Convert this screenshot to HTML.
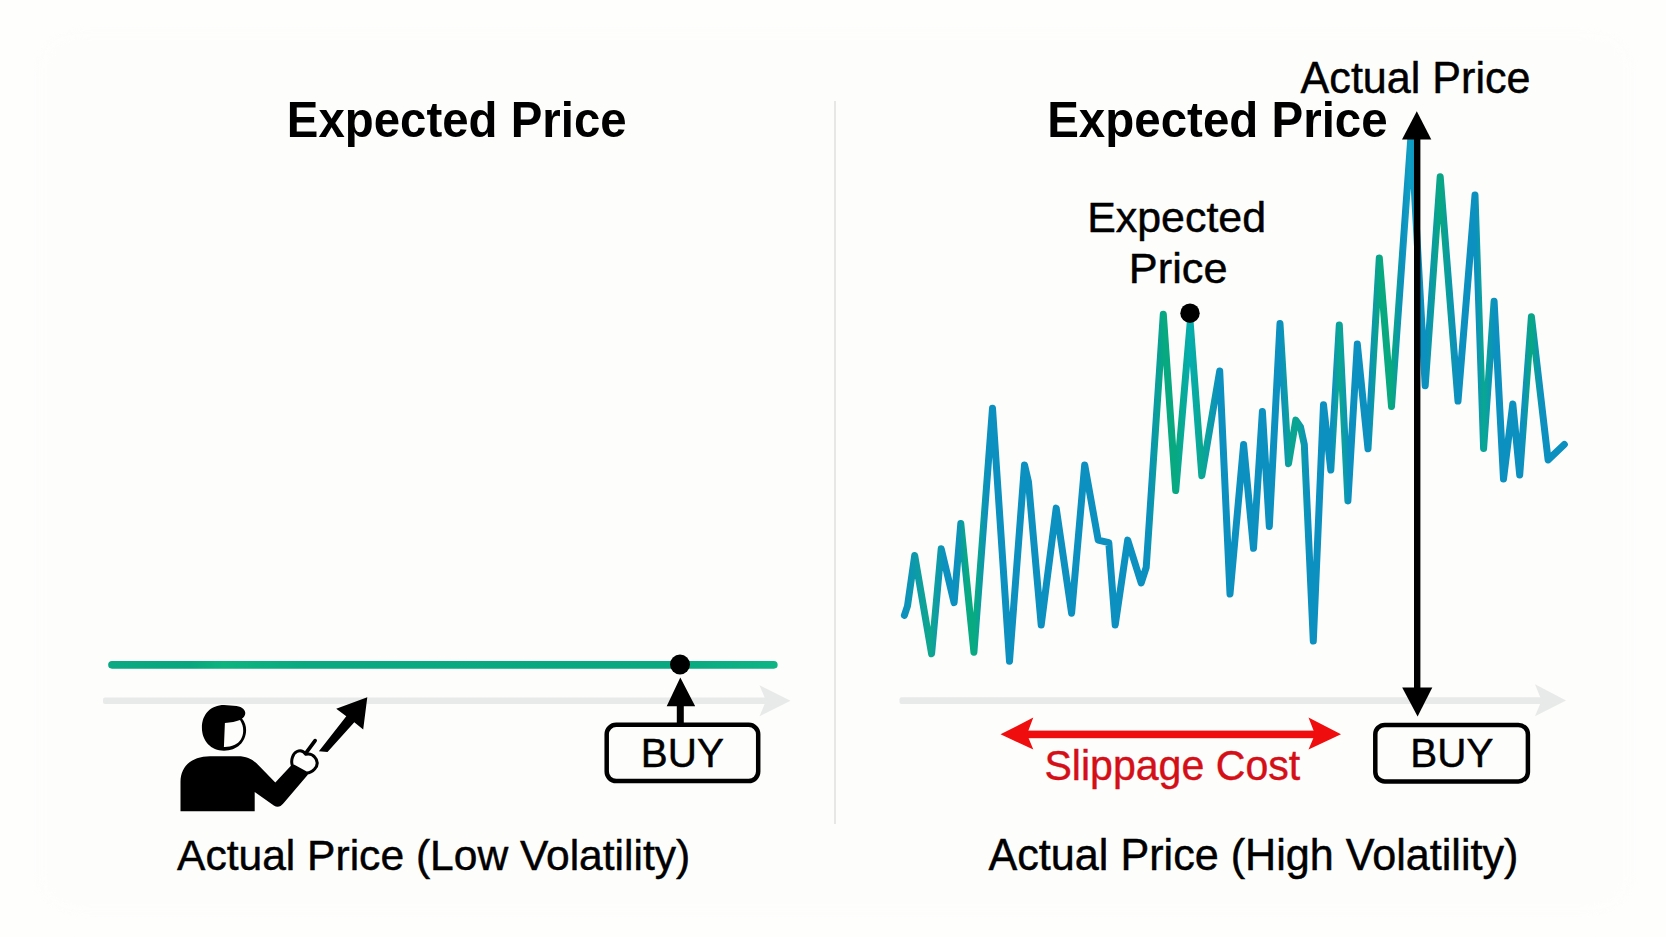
<!DOCTYPE html>
<html lang="en">
<head>
<meta charset="utf-8">
<title>Slippage: Expected Price vs Actual Price</title>
<style>
  html, body { margin: 0; padding: 0; background: #fefefd; }
  body { width: 1666px; height: 937px; overflow: hidden; position: relative; }
  svg { position: absolute; left: 0; top: 0; display: block; }
  text { font-family: "Liberation Sans", sans-serif; fill: #000; }
  .b { font-weight: 700; }
  .r { stroke: #000; stroke-width: 0.45; }
</style>
</head>
<body>
<svg width="1666" height="937" viewBox="0 0 1666 937">
  <defs>
    <filter id="soft" x="-5%" y="-5%" width="110%" height="110%"><feGaussianBlur stdDeviation="14"/></filter>
    <linearGradient id="gl" gradientUnits="userSpaceOnUse" x1="110" y1="0" x2="777" y2="0">
      <stop offset="0" stop-color="#0aa983"/>
      <stop offset="0.12" stop-color="#08a67e"/>
      <stop offset="0.17" stop-color="#0cb47e"/>
      <stop offset="0.3" stop-color="#0aa981"/>
      <stop offset="0.85" stop-color="#0aa880"/>
      <stop offset="1" stop-color="#0db585"/>
    </linearGradient>
    <linearGradient id="vg" gradientUnits="userSpaceOnUse" x1="900" y1="0" x2="1570" y2="0">
      <stop offset="0.006" stop-color="#0c90bf"/>
      <stop offset="0.045" stop-color="#0ea78c"/>
      <stop offset="0.066" stop-color="#0c90bf"/>
      <stop offset="0.085" stop-color="#0c90bf"/>
      <stop offset="0.100" stop-color="#08aa82"/>
      <stop offset="0.112" stop-color="#08aa82"/>
      <stop offset="0.130" stop-color="#0c90bf"/>
      <stop offset="0.370" stop-color="#0c90bf"/>
      <stop offset="0.393" stop-color="#08a880"/>
      <stop offset="0.412" stop-color="#08a880"/>
      <stop offset="0.433" stop-color="#05adb0"/>
      <stop offset="0.450" stop-color="#0aa890"/>
      <stop offset="0.475" stop-color="#0c90bf"/>
      <stop offset="0.568" stop-color="#0c90bf"/>
      <stop offset="0.584" stop-color="#0aa592"/>
      <stop offset="0.594" stop-color="#0aa592"/>
      <stop offset="0.608" stop-color="#0c90bf"/>
      <stop offset="0.645" stop-color="#0c90bf"/>
      <stop offset="0.656" stop-color="#0aa890"/>
      <stop offset="0.670" stop-color="#0c90bf"/>
      <stop offset="0.700" stop-color="#0c90bf"/>
      <stop offset="0.716" stop-color="#08a880"/>
      <stop offset="0.734" stop-color="#08a880"/>
      <stop offset="0.750" stop-color="#0c90bf"/>
      <stop offset="0.760" stop-color="#10a0c4"/>
      <stop offset="0.772" stop-color="#0c90bf"/>
      <stop offset="0.785" stop-color="#0c90bf"/>
      <stop offset="0.806" stop-color="#08a880"/>
      <stop offset="0.830" stop-color="#0c90bf"/>
      <stop offset="0.860" stop-color="#0c90bf"/>
      <stop offset="0.871" stop-color="#0aa890"/>
      <stop offset="0.887" stop-color="#0c90bf"/>
      <stop offset="0.930" stop-color="#0c90bf"/>
      <stop offset="0.942" stop-color="#08a880"/>
      <stop offset="0.957" stop-color="#0c90bf"/>
      <stop offset="1" stop-color="#0c90bf"/>
    </linearGradient>
  </defs>

  <!-- background -->
  <rect x="0" y="0" width="1666" height="937" fill="#fefefd"/>
  <rect x="45" y="38" width="1580" height="868" rx="20" fill="#fdfdfb" filter="url(#soft)"/>

  <!-- centre divider -->
  <rect x="834" y="101" width="2" height="723" fill="#e7e7e6"/>

  <!-- ================= LEFT PANEL ================= -->
  <text class="b" transform="translate(286.8,136.6) scale(1,1.045)" font-size="47.4">Expected Price</text>

  <!-- grey time axis -->
  <g fill="#e8e9e9" stroke="none">
    <rect x="103" y="697.5" width="665" height="6.5" rx="2"/>
    <path d="M790.5 700.8 L759.5 685.3 L766 700.8 L759.5 716.2 Z"/>
  </g>

  <!-- flat green price line -->
  <line x1="112" y1="664.8" x2="773.8" y2="664.8" stroke="url(#gl)" stroke-width="7.7" stroke-linecap="round"/>
  <circle cx="680" cy="664.5" r="10" fill="#000"/>

  <!-- arrow from BUY up to the line -->
  <path d="M680.3 677.5 L695.2 706.2 L683.8 706.2 L683.8 724 L676.8 724 L676.8 706.2 L666.7 706.2 Z" fill="#000"/>

  <!-- BUY box (left) -->
  <rect x="606.7" y="724.8" width="151.5" height="56.3" rx="9.5" ry="9.5" fill="#fdfdfc" stroke="#000" stroke-width="4.5"/>
  <text class="r" transform="translate(682.3,767) scale(1,1.015)" font-size="40.4" text-anchor="middle">BUY</text>

  <!-- person pointing -->
  <g id="person">
    <!-- body + arm -->
    <path fill="#000" d="M180.5 811.3 L180.5 782 C180.5 766 192 756.2 210 756.2 L238 756.2 C247 756.2 253 759.5 258 764.8 L275.3 782.6 L293 763.5 L308 774.5 L283.5 803.3 C280.2 807.2 277.3 807.6 273.8 805.6 L254.7 792 L254.7 811.3 Z"/>
    <!-- head + hair tuft -->
    <path fill="#000" d="M201.9 727.5 C201.9 714 211 704.9 224 704.9 L236.5 705.9 C242.5 706.8 246 710.3 245.2 714 C244.7 716 243.6 717.5 242 718.6 C245 722.5 246.1 726 246.1 730 C246.1 742 237 750.7 224 750.7 C211 750.7 201.9 741 201.9 727.5 Z"/>
    <!-- face -->
    <path fill="#fdfdfc" d="M224.9 722.9 C231 722.6 236 721.6 240 720 C242.3 723.5 243.3 727 243.2 731 C243 738 239.5 742.5 234.8 744.8 C231 746.5 227.5 747 223.9 746.9 Z"/>
    <!-- hand -->
    <path fill="#fdfdfc" stroke="#000" stroke-width="3" stroke-linejoin="round" d="M292.3 765.3 C290.6 760 292.8 753.5 297 751.5 C300.5 749.8 303.6 751.3 305.8 754.3 C309 753.5 312.6 754.6 314.6 757 C317.9 760.6 318 765 314.6 769 C312 771.9 309 773.1 306 772.9 Z"/>
    <!-- finger / pointer -->
    <line x1="306.6" y1="752.2" x2="315.1" y2="740.6" stroke="#000" stroke-width="3.7" stroke-linecap="round"/>
    <!-- diagonal arrow -->
    <path fill="#000" d="M367.3 697.3 L363.2 729.6 L354.3 722.3 L327.5 752 L318.9 751.2 L346.3 716.3 L336.2 708.8 Z"/>
  </g>

  <text class="r" transform="translate(177,870.4) scale(1,1.02)" font-size="42.57">Actual Price (Low Volatility)</text>

  <!-- ================= RIGHT PANEL ================= -->
  <text class="b" transform="translate(1047.2,137.2) scale(1,1.04)" font-size="47.5">Expected Price</text>
  <text class="r" transform="translate(1300.6,93.3) scale(1,1.035)" font-size="43.1">Actual Price</text>
  <text class="r" x="1176.6" y="232.1" font-size="42.9" text-anchor="middle">Expected</text>
  <text class="r" x="1178.2" y="282.6" font-size="43.3" text-anchor="middle">Price</text>

  <!-- grey time axis -->
  <g fill="#e8e9e9" stroke="none">
    <rect x="899.5" y="697.2" width="645" height="6.7" rx="2"/>
    <path d="M1566 700.5 L1535 684.3 L1541.6 700.5 L1535 716.2 Z"/>
  </g>

  <!-- volatile price line -->
  <polyline fill="none" stroke="url(#vg)" stroke-width="7" stroke-linejoin="round" stroke-linecap="round"
    points="904.4,615.4 907.5,606 914.7,555.5 931.6,653.8 941.2,548.8 954.1,602.6 960.8,523.5 973.9,652.2 992.5,408.2 1009.5,661.2 1024.5,464.9 1028.5,482 1041.2,625 1056.2,508.1 1071.6,613.2 1084.7,464.9 1098.2,540.1 1108.8,542.7 1115.2,625 1127.7,540.1 1141.2,583 1146.2,567.4 1163.3,314.2 1175.7,490.6 1190.2,322.7 1201.8,475.7 1219.7,371 1230,594 1243.6,444.5 1253.5,548.3 1262.4,411.6 1269.3,526.5 1280,323.6 1288.5,463.7 1295.8,420.1 1300.5,427 1304.3,444.5 1313.3,641 1323.5,404.7 1330.8,470.1 1339.3,324.9 1347.9,500.9 1357.3,344.1 1368,448.8 1379.3,257.9 1391.5,406.5 1411.2,133 1425.2,385.7 1440.2,176.8 1458,401.1 1475,195 1483.6,448.5 1494.1,301.3 1503.5,479 1512.8,403.9 1519.7,474.9 1531.4,316.7 1548.1,459.9 1564.3,444.5"/>

  <circle cx="1190" cy="313.2" r="9.7" fill="#000"/>

  <!-- tall black double arrow: expected -> actual -->
  <g fill="#000">
    <rect x="1414" y="135" width="6.4" height="556"/>
    <path d="M1416.8 111.2 L1431.3 139.5 L1402 139.5 Z"/>
    <path d="M1417.6 716.6 L1432.3 687.5 L1402.2 687.5 Z"/>
  </g>

  <!-- slippage cost -->
  <g fill="#f00d0d">
    <rect x="1026" y="730.6" width="290" height="7.6"/>
    <path d="M1000.5 734.3 L1033.3 717.6 L1027 734.3 L1033.3 749.6 Z"/>
    <path d="M1341 734.3 L1308.5 717.6 L1315 734.3 L1308.5 749.6 Z"/>
  </g>
  <text transform="translate(1172.3,780.4) scale(1,1.045)" font-size="41.1" text-anchor="middle" style="fill:#d40f17;stroke:#d40f17;stroke-width:0.4">Slippage Cost</text>

  <!-- BUY box (right) -->
  <rect x="1375.3" y="724.9" width="152.6" height="56.5" rx="9.5" ry="9.5" fill="#fdfdfc" stroke="#000" stroke-width="4.5"/>
  <text class="r" transform="translate(1451.8,767) scale(1,1.015)" font-size="40.4" text-anchor="middle">BUY</text>

  <text class="r" transform="translate(988.5,870.4) scale(1,1.02)" font-size="43.15">Actual Price (High Volatility)</text>
</svg>
</body>
</html>
